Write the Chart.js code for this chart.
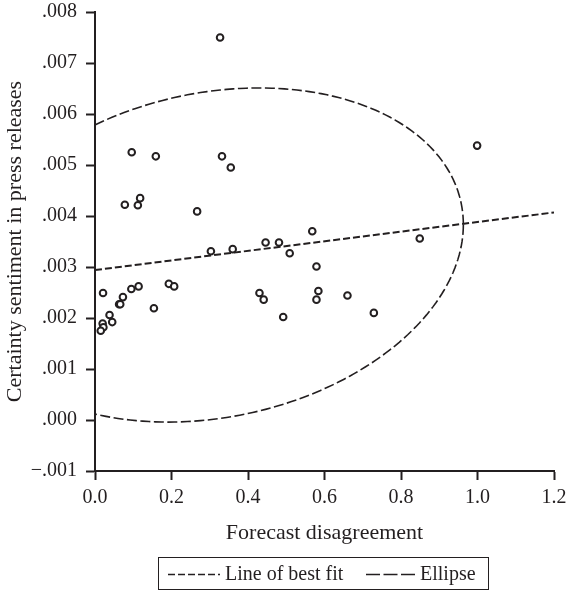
<!DOCTYPE html>
<html>
<head>
<meta charset="utf-8">
<script src="https://cdn.jsdelivr.net/npm/chart.js@4.4.1/dist/chart.umd.min.js"></script>
<style>
    body { margin: 0; background: #fff; }
    .wrap { position: relative; width: 568px; height: 593px; }
    .legend {
        position: absolute; left: 158px; top: 557px; width: 331px; height: 33px;
        border: 1.5px solid #231f20; box-sizing: border-box;
        font-family: "Liberation Serif", serif; font-size: 20px; color: #231f20;
    }
    .legend svg { position: absolute; top: 15px; }
    .legend span { position: absolute; top: 4px; white-space: nowrap; }
</style>
</head>
<body>
<div class="wrap">
    <canvas id="chart" width="568" height="593"></canvas>
    <div class="legend">
        <svg style="left:9px" width="52" height="3"><line x1="0" y1="1.5" x2="52" y2="1.5" stroke="#231f20" stroke-width="1.6" stroke-dasharray="7,3"/></svg>
        <span style="left:66px">Line of best fit</span>
        <svg style="left:207px" width="50" height="3"><line x1="0" y1="1.5" x2="50" y2="1.5" stroke="#231f20" stroke-width="1.6" stroke-dasharray="14,3.5"/></svg>
        <span style="left:261px">Ellipse</span>
    </div>
</div>
<script>
// ---- data ----
const disagreement = [
    0.327, 0.096, 0.159, 0.332, 0.355, 0.078, 0.112, 0.118, 0.267, 0.303,
    0.360, 0.446, 0.481, 0.509, 0.568, 0.579, 0.584, 0.579, 0.430, 0.441,
    0.492, 0.193, 0.207, 0.154, 0.095, 0.114, 0.073, 0.063, 0.066, 0.021,
    0.038, 0.045, 0.020, 0.022, 0.015, 0.849, 0.660, 0.729, 0.999
];
const sentiment = [
    0.00750, 0.00525, 0.00517, 0.00517, 0.00495, 0.00422, 0.00421, 0.00435, 0.00409, 0.00331,
    0.00335, 0.00348, 0.00348, 0.00327, 0.00370, 0.00301, 0.00253, 0.00236, 0.00249, 0.00236,
    0.00202, 0.00267, 0.00262, 0.00219, 0.00257, 0.00262, 0.00241, 0.00227, 0.00227, 0.00249,
    0.00206, 0.00192, 0.00189, 0.00182, 0.00175, 0.00356, 0.00244, 0.00210, 0.00538
];

// line of best fit, end points
const fitX = [0, 1.2];
const fitY = [0.00294, 0.00407];

// ellipse: centre and two conjugate half-axes (x, y)
const ellipseCenter = [0.31, 0.003235];
const ellipseAxisA = [0.653, 0.000597];
const ellipseAxisB = [0, 0.003221];

const xTicks = [0, 0.2, 0.4, 0.6, 0.8, 1.0, 1.2];

const ink = '#231f20';
const serif = '"Liberation Serif", serif';

// Draws the dashed ellipse through the chart scales, clipped to the plot area
const ellipsePlugin = {
    id: 'ellipse',
    afterDatasetsDraw(chart) {
        const { ctx, chartArea, scales } = chart;
        const xs = scales.x, ys = scales.y;
        ctx.save();
        ctx.beginPath();
        ctx.rect(chartArea.left, chartArea.top - 2, chartArea.width, chartArea.height + 2);
        ctx.clip();
        ctx.beginPath();
        const steps = 240;
        for (let i = 0; i <= steps; i++) {
            const t = (i / steps) * Math.PI * 2;
            const vx = ellipseCenter[0] + ellipseAxisA[0] * Math.cos(t) + ellipseAxisB[0] * Math.sin(t);
            const vy = ellipseCenter[1] + ellipseAxisA[1] * Math.cos(t) + ellipseAxisB[1] * Math.sin(t);
            const px = xs.getPixelForValue(vx), py = ys.getPixelForValue(vy);
            if (i === 0) ctx.moveTo(px, py); else ctx.lineTo(px, py);
        }
        ctx.setLineDash([10, 3.5]);
        ctx.lineWidth = 1.6;
        ctx.strokeStyle = ink;
        ctx.stroke();
        ctx.restore();
    }
};

const points = disagreement.map((x, i) => ({ x: x, y: sentiment[i] }));
const fitLine = fitX.map((x, i) => ({ x: x, y: fitY[i] }));

const fmtY = (v) => {
    const s = Math.abs(v).toFixed(3).replace(/^0/, '');
    return v < -1e-9 ? '\u2212' + s : s;
};

new Chart(document.getElementById('chart'), {
    type: 'scatter',
    data: {
        datasets: [
            {
                label: 'Observations',
                data: points,
                pointRadius: 3.3,
                pointBorderWidth: 2,
                borderColor: ink,
                backgroundColor: '#fff',
                order: 0
            },
            {
                label: 'Line of best fit',
                data: fitLine,
                showLine: true,
                pointRadius: 0,
                borderColor: ink,
                borderWidth: 2,
                borderDash: [7, 3],
                order: 1
            }
        ]
    },
    options: {
        responsive: false,
        animation: false,
        devicePixelRatio: 1,
        layout: { padding: { left: 0, top: 12, right: 14, bottom: 47 } },
        plugins: {
            legend: { display: false },
            tooltip: { enabled: false }
        },
        scales: {
            x: {
                type: 'linear',
                min: 0,
                max: 1.2,
                afterBuildTicks: (scale) => { scale.ticks = xTicks.map(v => ({ value: v })); },
                afterFit: (scale) => {
                    scale.height = 75;
                    scale.paddingLeft = 0;
                    scale.paddingRight = 0;
                },
                grid: { drawOnChartArea: false, drawTicks: true, tickLength: 9, tickWidth: 2, tickColor: ink },
                border: { display: true, color: ink, width: 2 },
                ticks: {
                    autoSkip: false, maxRotation: 0, padding: 6, color: ink,
                    font: { family: serif, size: 20 },
                    callback: (v) => v.toFixed(1)
                },
                title: {
                    display: true, text: 'Forecast disagreement', color: ink,
                    font: { family: serif, size: 22 }, padding: { top: 6, bottom: 0 }
                }
            },
            y: {
                type: 'linear',
                min: -0.001,
                max: 0.008,
                afterFit: (scale) => {
                    scale.width = 95;
                    scale.paddingTop = 0;
                    scale.paddingBottom = 0;
                },
                grid: { drawOnChartArea: false, drawTicks: true, tickLength: 9, tickWidth: 2, tickColor: ink },
                border: { display: true, color: ink, width: 2 },
                ticks: {
                    stepSize: 0.001, padding: 9, color: ink,
                    font: { family: serif, size: 20 },
                    callback: fmtY
                },
                title: {
                    display: true, text: 'Certainty sentiment in press releases', color: ink,
                    font: { family: serif, size: 22 }, padding: { top: 2, bottom: 0 }
                }
            }
        }
    },
    plugins: [ellipsePlugin]
});
</script>
</body>
</html>
